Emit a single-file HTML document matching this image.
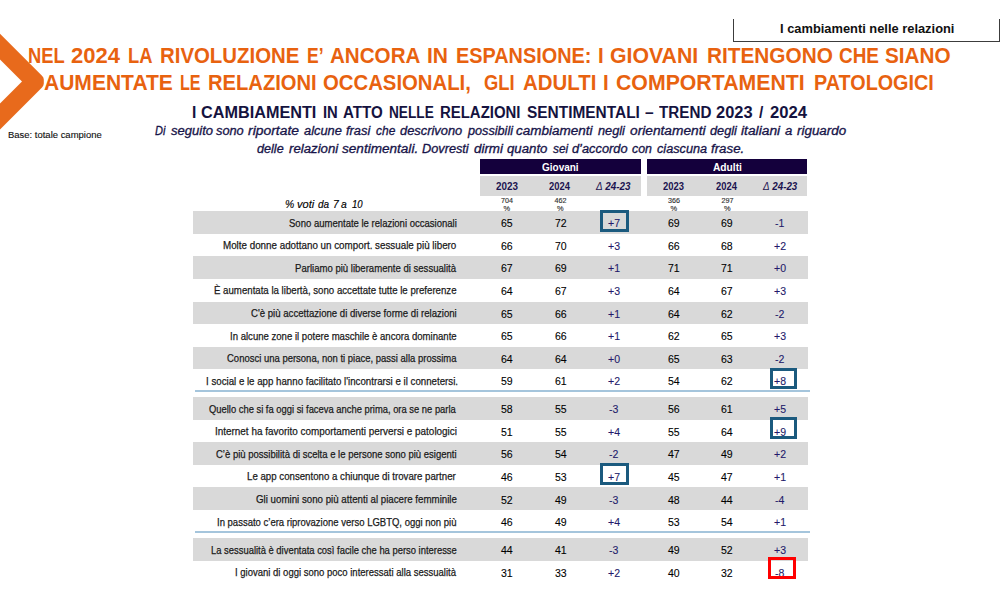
<!DOCTYPE html>
<html><head><meta charset="utf-8"><style>*{margin:0;padding:0}html,body{width:1000px;height:600px;overflow:hidden;background:#fff}body{position:relative;font-family:"Liberation Sans", Arial, sans-serif}.t{position:absolute;line-height:1;white-space:nowrap;transform-origin:0 0}.bl{display:inline-block;width:0;height:0}</style></head><body>
<svg style="position:absolute;left:0;top:0" width="60" height="140" viewBox="0 0 60 140"><path d="M0 33.8 L42 75.8 Q43.8 77.6 43.8 79.6 L43.8 83.6 Q43.8 85.6 42 87.4 L0 129.4 L0 103.6 L22 81.6 L0 59.6 Z" fill="#e86a1c"/></svg>
<div style="position:absolute;left:733px;top:19px;width:264.5px;height:21.5px;border-left:1.5px solid #3c3c3c;border-right:1.5px solid #3c3c3c;border-bottom:1.5px solid #3c3c3c"></div>
<div style="position:absolute;left:480px;top:159px;width:161px;height:15.2px;background:#14003c"></div>
<div style="position:absolute;left:480px;top:175.5px;width:161px;height:20px;background:#d9d9d9"></div>
<div style="position:absolute;left:647px;top:159px;width:160.2px;height:15.2px;background:#14003c"></div>
<div style="position:absolute;left:647px;top:175.5px;width:160.2px;height:20px;background:#d9d9d9"></div>
<div style="position:absolute;left:193px;top:211.2px;width:614.6px;height:22.6px;background:#d9d9d9"></div>
<div style="position:absolute;left:193px;top:256.36px;width:614.6px;height:22.6px;background:#d9d9d9"></div>
<div style="position:absolute;left:193px;top:301.52px;width:614.6px;height:22.6px;background:#d9d9d9"></div>
<div style="position:absolute;left:193px;top:346.67999999999995px;width:614.6px;height:22.6px;background:#d9d9d9"></div>
<div style="position:absolute;left:193px;top:397.0px;width:614.6px;height:22.6px;background:#d9d9d9"></div>
<div style="position:absolute;left:193px;top:442.2px;width:614.6px;height:22.6px;background:#d9d9d9"></div>
<div style="position:absolute;left:193px;top:487.4px;width:614.6px;height:22.6px;background:#d9d9d9"></div>
<div style="position:absolute;left:193px;top:538.0px;width:614.6px;height:22.6px;background:#d9d9d9"></div>
<div style="position:absolute;left:194.5px;top:390.3px;width:615.5px;height:1.5px;background:#a5c5dc"></div>
<div style="position:absolute;left:194.5px;top:531.3px;width:615.5px;height:1.5px;background:#a5c5dc"></div>
<div class="t" id="bx" style="left:780.00px;top:23.00px;font-size:12.3px;font-weight:700;font-style:normal;color:#111;transform:scaleX(1.0460)">I cambiamenti nelle relazioni</div>
<div class="t" id="base" style="left:7.60px;top:131.21px;font-size:8.9px;font-weight:400;font-style:normal;color:#111;transform:scaleX(1.0669);-webkit-text-stroke:0.12px #111">Base: totale campione</div>
<div class="t" id="gio" style="left:541.70px;top:162.01px;font-size:10.8px;font-weight:700;font-style:normal;color:#fff;transform:scaleX(0.9256)">Giovani</div>
<div class="t" id="adu" style="left:713.00px;top:161.60px;font-size:10.8px;font-weight:700;font-style:normal;color:#fff;transform:scaleX(0.9452)">Adulti</div>
<div class="t" id="g23" style="left:495.58px;top:181.61px;font-size:10.2px;font-weight:700;font-style:normal;color:#1c1450;transform:scaleX(0.9680)">2023</div>
<div class="t" id="g24" style="left:549.11px;top:181.61px;font-size:10.2px;font-weight:700;font-style:normal;color:#1c1450;transform:scaleX(0.9219)">2024</div>
<div class="t" id="a23" style="left:663.00px;top:181.61px;font-size:10.2px;font-weight:700;font-style:normal;color:#1c1450;transform:scaleX(0.9255)">2023</div>
<div class="t" id="a24" style="left:716.00px;top:181.61px;font-size:10.2px;font-weight:700;font-style:normal;color:#1c1450;transform:scaleX(0.9219)">2024</div>
<div class="t" id="gd" style="left:596.10px;top:181.61px;font-size:10.2px;font-weight:700;font-style:italic;color:#1c1450;transform:scaleX(0.9659)"><span style="font-weight:400">Δ</span> 24-23</div>
<div class="t" id="ad" style="left:763.09px;top:181.61px;font-size:10.2px;font-weight:700;font-style:italic;color:#1c1450;transform:scaleX(0.9600)"><span style="font-weight:400">Δ</span> 24-23</div>
<div class="t" id="n1" style="left:501.00px;top:196.90px;font-size:7.2px;font-weight:400;font-style:normal;color:#333;transform:scaleX(1.0000);-webkit-text-stroke:0.15px #333">704</div>
<div class="t" id="n1p" style="left:503.50px;top:204.60px;font-size:7.4px;font-weight:400;font-style:normal;color:#333;transform:scaleX(1.0000);-webkit-text-stroke:0.15px #333">%</div>
<div class="t" id="n2" style="left:554.50px;top:196.90px;font-size:7.2px;font-weight:400;font-style:normal;color:#333;transform:scaleX(1.0000);-webkit-text-stroke:0.15px #333">462</div>
<div class="t" id="n2p" style="left:557.00px;top:204.60px;font-size:7.4px;font-weight:400;font-style:normal;color:#333;transform:scaleX(1.0000);-webkit-text-stroke:0.15px #333">%</div>
<div class="t" id="n3" style="left:668.00px;top:196.90px;font-size:7.2px;font-weight:400;font-style:normal;color:#333;transform:scaleX(1.0000);-webkit-text-stroke:0.15px #333">366</div>
<div class="t" id="n3p" style="left:670.50px;top:204.60px;font-size:7.4px;font-weight:400;font-style:normal;color:#333;transform:scaleX(1.0000);-webkit-text-stroke:0.15px #333">%</div>
<div class="t" id="n4" style="left:721.40px;top:196.90px;font-size:7.2px;font-weight:400;font-style:normal;color:#333;transform:scaleX(1.0000);-webkit-text-stroke:0.15px #333">297</div>
<div class="t" id="n4p" style="left:723.90px;top:204.60px;font-size:7.4px;font-weight:400;font-style:normal;color:#333;transform:scaleX(1.0000);-webkit-text-stroke:0.15px #333">%</div>
<div class="t" id="l0" style="left:288.60px;top:217.71px;font-size:11.2px;font-weight:400;font-style:normal;color:#1a1a1a;transform:scaleX(0.8509);-webkit-text-stroke:0.25px #1a1a1a">Sono aumentate le relazioni occasionali</div>
<div class="t" id="v0_0" style="left:500.60px;top:217.31px;font-size:11.7px;font-weight:400;font-style:normal;color:#000000;transform:scaleX(0.9000);-webkit-text-stroke:0.1px #000000">65</div>
<div class="t" id="v0_1" style="left:554.50px;top:217.31px;font-size:11.7px;font-weight:400;font-style:normal;color:#000000;transform:scaleX(0.9000);-webkit-text-stroke:0.1px #000000">72</div>
<div class="t" id="v0_2" style="left:607.50px;top:217.31px;font-size:11.7px;font-weight:400;font-style:normal;color:#221a6a;transform:scaleX(0.9000);-webkit-text-stroke:0.1px #221a6a">+7</div>
<div class="t" id="v0_3" style="left:667.60px;top:217.31px;font-size:11.7px;font-weight:400;font-style:normal;color:#000000;transform:scaleX(0.9000);-webkit-text-stroke:0.1px #000000">69</div>
<div class="t" id="v0_4" style="left:721.40px;top:217.31px;font-size:11.7px;font-weight:400;font-style:normal;color:#000000;transform:scaleX(0.9000);-webkit-text-stroke:0.1px #000000">69</div>
<div class="t" id="v0_5" style="left:775.40px;top:217.31px;font-size:11.7px;font-weight:400;font-style:normal;color:#221a6a;transform:scaleX(0.9000);-webkit-text-stroke:0.1px #221a6a">-1</div>
<div class="t" id="l1" style="left:223.19px;top:240.30px;font-size:11.2px;font-weight:400;font-style:normal;color:#1a1a1a;transform:scaleX(0.8765);-webkit-text-stroke:0.25px #1a1a1a">Molte donne adottano un comport. sessuale più libero</div>
<div class="t" id="v1_0" style="left:500.60px;top:239.89px;font-size:11.7px;font-weight:400;font-style:normal;color:#000000;transform:scaleX(0.9000);-webkit-text-stroke:0.1px #000000">66</div>
<div class="t" id="v1_1" style="left:554.50px;top:239.89px;font-size:11.7px;font-weight:400;font-style:normal;color:#000000;transform:scaleX(0.9000);-webkit-text-stroke:0.1px #000000">70</div>
<div class="t" id="v1_2" style="left:607.50px;top:239.89px;font-size:11.7px;font-weight:400;font-style:normal;color:#221a6a;transform:scaleX(0.9000);-webkit-text-stroke:0.1px #221a6a">+3</div>
<div class="t" id="v1_3" style="left:667.60px;top:239.89px;font-size:11.7px;font-weight:400;font-style:normal;color:#000000;transform:scaleX(0.9000);-webkit-text-stroke:0.1px #000000">66</div>
<div class="t" id="v1_4" style="left:721.40px;top:239.89px;font-size:11.7px;font-weight:400;font-style:normal;color:#000000;transform:scaleX(0.9000);-webkit-text-stroke:0.1px #000000">68</div>
<div class="t" id="v1_5" style="left:774.40px;top:239.89px;font-size:11.7px;font-weight:400;font-style:normal;color:#221a6a;transform:scaleX(0.9000);-webkit-text-stroke:0.1px #221a6a">+2</div>
<div class="t" id="l2" style="left:295.00px;top:262.88px;font-size:11.2px;font-weight:400;font-style:normal;color:#1a1a1a;transform:scaleX(0.8547);-webkit-text-stroke:0.25px #1a1a1a">Parliamo più liberamente di sessualità</div>
<div class="t" id="v2_0" style="left:500.60px;top:262.46px;font-size:11.7px;font-weight:400;font-style:normal;color:#000000;transform:scaleX(0.9000);-webkit-text-stroke:0.1px #000000">67</div>
<div class="t" id="v2_1" style="left:554.50px;top:262.46px;font-size:11.7px;font-weight:400;font-style:normal;color:#000000;transform:scaleX(0.9000);-webkit-text-stroke:0.1px #000000">69</div>
<div class="t" id="v2_2" style="left:607.50px;top:262.46px;font-size:11.7px;font-weight:400;font-style:normal;color:#221a6a;transform:scaleX(0.9000);-webkit-text-stroke:0.1px #221a6a">+1</div>
<div class="t" id="v2_3" style="left:667.60px;top:262.46px;font-size:11.7px;font-weight:400;font-style:normal;color:#000000;transform:scaleX(0.9000);-webkit-text-stroke:0.1px #000000">71</div>
<div class="t" id="v2_4" style="left:721.40px;top:262.46px;font-size:11.7px;font-weight:400;font-style:normal;color:#000000;transform:scaleX(0.9000);-webkit-text-stroke:0.1px #000000">71</div>
<div class="t" id="v2_5" style="left:774.40px;top:262.46px;font-size:11.7px;font-weight:400;font-style:normal;color:#221a6a;transform:scaleX(0.9000);-webkit-text-stroke:0.1px #221a6a">+0</div>
<div class="t" id="l3" style="left:214.40px;top:285.45px;font-size:11.2px;font-weight:400;font-style:normal;color:#1a1a1a;transform:scaleX(0.8628);-webkit-text-stroke:0.25px #1a1a1a">È aumentata la libertà, sono accettate tutte le preferenze</div>
<div class="t" id="v3_0" style="left:500.60px;top:285.04px;font-size:11.7px;font-weight:400;font-style:normal;color:#000000;transform:scaleX(0.9000);-webkit-text-stroke:0.1px #000000">64</div>
<div class="t" id="v3_1" style="left:554.50px;top:285.04px;font-size:11.7px;font-weight:400;font-style:normal;color:#000000;transform:scaleX(0.9000);-webkit-text-stroke:0.1px #000000">67</div>
<div class="t" id="v3_2" style="left:607.50px;top:285.04px;font-size:11.7px;font-weight:400;font-style:normal;color:#221a6a;transform:scaleX(0.9000);-webkit-text-stroke:0.1px #221a6a">+3</div>
<div class="t" id="v3_3" style="left:667.60px;top:285.04px;font-size:11.7px;font-weight:400;font-style:normal;color:#000000;transform:scaleX(0.9000);-webkit-text-stroke:0.1px #000000">64</div>
<div class="t" id="v3_4" style="left:721.40px;top:285.04px;font-size:11.7px;font-weight:400;font-style:normal;color:#000000;transform:scaleX(0.9000);-webkit-text-stroke:0.1px #000000">67</div>
<div class="t" id="v3_5" style="left:774.40px;top:285.04px;font-size:11.7px;font-weight:400;font-style:normal;color:#221a6a;transform:scaleX(0.9000);-webkit-text-stroke:0.1px #221a6a">+3</div>
<div class="t" id="l4" style="left:250.80px;top:308.03px;font-size:11.2px;font-weight:400;font-style:normal;color:#1a1a1a;transform:scaleX(0.8584);-webkit-text-stroke:0.25px #1a1a1a">C'è più accettazione di diverse forme di relazioni</div>
<div class="t" id="v4_0" style="left:500.60px;top:307.63px;font-size:11.7px;font-weight:400;font-style:normal;color:#000000;transform:scaleX(0.9000);-webkit-text-stroke:0.1px #000000">65</div>
<div class="t" id="v4_1" style="left:554.50px;top:307.63px;font-size:11.7px;font-weight:400;font-style:normal;color:#000000;transform:scaleX(0.9000);-webkit-text-stroke:0.1px #000000">66</div>
<div class="t" id="v4_2" style="left:607.50px;top:307.63px;font-size:11.7px;font-weight:400;font-style:normal;color:#221a6a;transform:scaleX(0.9000);-webkit-text-stroke:0.1px #221a6a">+1</div>
<div class="t" id="v4_3" style="left:667.60px;top:307.63px;font-size:11.7px;font-weight:400;font-style:normal;color:#000000;transform:scaleX(0.9000);-webkit-text-stroke:0.1px #000000">64</div>
<div class="t" id="v4_4" style="left:721.40px;top:307.63px;font-size:11.7px;font-weight:400;font-style:normal;color:#000000;transform:scaleX(0.9000);-webkit-text-stroke:0.1px #000000">62</div>
<div class="t" id="v4_5" style="left:775.40px;top:307.63px;font-size:11.7px;font-weight:400;font-style:normal;color:#221a6a;transform:scaleX(0.9000);-webkit-text-stroke:0.1px #221a6a">-2</div>
<div class="t" id="l5" style="left:229.90px;top:330.60px;font-size:11.2px;font-weight:400;font-style:normal;color:#1a1a1a;transform:scaleX(0.8555);-webkit-text-stroke:0.25px #1a1a1a">In alcune zone il potere maschile è ancora dominante</div>
<div class="t" id="v5_0" style="left:500.60px;top:330.20px;font-size:11.7px;font-weight:400;font-style:normal;color:#000000;transform:scaleX(0.9000);-webkit-text-stroke:0.1px #000000">65</div>
<div class="t" id="v5_1" style="left:554.50px;top:330.20px;font-size:11.7px;font-weight:400;font-style:normal;color:#000000;transform:scaleX(0.9000);-webkit-text-stroke:0.1px #000000">66</div>
<div class="t" id="v5_2" style="left:607.50px;top:330.20px;font-size:11.7px;font-weight:400;font-style:normal;color:#221a6a;transform:scaleX(0.9000);-webkit-text-stroke:0.1px #221a6a">+1</div>
<div class="t" id="v5_3" style="left:667.60px;top:330.20px;font-size:11.7px;font-weight:400;font-style:normal;color:#000000;transform:scaleX(0.9000);-webkit-text-stroke:0.1px #000000">62</div>
<div class="t" id="v5_4" style="left:721.40px;top:330.20px;font-size:11.7px;font-weight:400;font-style:normal;color:#000000;transform:scaleX(0.9000);-webkit-text-stroke:0.1px #000000">65</div>
<div class="t" id="v5_5" style="left:774.40px;top:330.20px;font-size:11.7px;font-weight:400;font-style:normal;color:#221a6a;transform:scaleX(0.9000);-webkit-text-stroke:0.1px #221a6a">+3</div>
<div class="t" id="l6" style="left:227.40px;top:353.19px;font-size:11.2px;font-weight:400;font-style:normal;color:#1a1a1a;transform:scaleX(0.8482);-webkit-text-stroke:0.25px #1a1a1a">Conosci una persona, non ti piace, passi alla prossima</div>
<div class="t" id="v6_0" style="left:500.60px;top:352.80px;font-size:11.7px;font-weight:400;font-style:normal;color:#000000;transform:scaleX(0.9000);-webkit-text-stroke:0.1px #000000">64</div>
<div class="t" id="v6_1" style="left:554.50px;top:352.80px;font-size:11.7px;font-weight:400;font-style:normal;color:#000000;transform:scaleX(0.9000);-webkit-text-stroke:0.1px #000000">64</div>
<div class="t" id="v6_2" style="left:607.50px;top:352.80px;font-size:11.7px;font-weight:400;font-style:normal;color:#221a6a;transform:scaleX(0.9000);-webkit-text-stroke:0.1px #221a6a">+0</div>
<div class="t" id="v6_3" style="left:667.60px;top:352.80px;font-size:11.7px;font-weight:400;font-style:normal;color:#000000;transform:scaleX(0.9000);-webkit-text-stroke:0.1px #000000">65</div>
<div class="t" id="v6_4" style="left:721.40px;top:352.80px;font-size:11.7px;font-weight:400;font-style:normal;color:#000000;transform:scaleX(0.9000);-webkit-text-stroke:0.1px #000000">63</div>
<div class="t" id="v6_5" style="left:775.40px;top:352.80px;font-size:11.7px;font-weight:400;font-style:normal;color:#221a6a;transform:scaleX(0.9000);-webkit-text-stroke:0.1px #221a6a">-2</div>
<div class="t" id="l7" style="left:205.50px;top:375.77px;font-size:11.2px;font-weight:400;font-style:normal;color:#1a1a1a;transform:scaleX(0.8669);-webkit-text-stroke:0.25px #1a1a1a">I social e le app hanno facilitato l'incontrarsi e il connetersi.</div>
<div class="t" id="v7_0" style="left:500.60px;top:375.37px;font-size:11.7px;font-weight:400;font-style:normal;color:#000000;transform:scaleX(0.9000);-webkit-text-stroke:0.1px #000000">59</div>
<div class="t" id="v7_1" style="left:554.50px;top:375.37px;font-size:11.7px;font-weight:400;font-style:normal;color:#000000;transform:scaleX(0.9000);-webkit-text-stroke:0.1px #000000">61</div>
<div class="t" id="v7_2" style="left:607.50px;top:375.37px;font-size:11.7px;font-weight:400;font-style:normal;color:#221a6a;transform:scaleX(0.9000);-webkit-text-stroke:0.1px #221a6a">+2</div>
<div class="t" id="v7_3" style="left:667.60px;top:375.37px;font-size:11.7px;font-weight:400;font-style:normal;color:#000000;transform:scaleX(0.9000);-webkit-text-stroke:0.1px #000000">54</div>
<div class="t" id="v7_4" style="left:721.40px;top:375.37px;font-size:11.7px;font-weight:400;font-style:normal;color:#000000;transform:scaleX(0.9000);-webkit-text-stroke:0.1px #000000">62</div>
<div class="t" id="v7_5" style="left:774.40px;top:375.37px;font-size:11.7px;font-weight:400;font-style:normal;color:#221a6a;transform:scaleX(0.9000);-webkit-text-stroke:0.1px #221a6a">+8</div>
<div class="t" id="l8" style="left:209.40px;top:403.51px;font-size:11.2px;font-weight:400;font-style:normal;color:#1a1a1a;transform:scaleX(0.8389);-webkit-text-stroke:0.25px #1a1a1a">Quello che si fa oggi si faceva anche prima, ora se ne parla</div>
<div class="t" id="v8_0" style="left:500.60px;top:403.10px;font-size:11.7px;font-weight:400;font-style:normal;color:#000000;transform:scaleX(0.9000);-webkit-text-stroke:0.1px #000000">58</div>
<div class="t" id="v8_1" style="left:554.50px;top:403.10px;font-size:11.7px;font-weight:400;font-style:normal;color:#000000;transform:scaleX(0.9000);-webkit-text-stroke:0.1px #000000">55</div>
<div class="t" id="v8_2" style="left:608.50px;top:403.10px;font-size:11.7px;font-weight:400;font-style:normal;color:#221a6a;transform:scaleX(0.9000);-webkit-text-stroke:0.1px #221a6a">-3</div>
<div class="t" id="v8_3" style="left:667.60px;top:403.10px;font-size:11.7px;font-weight:400;font-style:normal;color:#000000;transform:scaleX(0.9000);-webkit-text-stroke:0.1px #000000">56</div>
<div class="t" id="v8_4" style="left:721.40px;top:403.10px;font-size:11.7px;font-weight:400;font-style:normal;color:#000000;transform:scaleX(0.9000);-webkit-text-stroke:0.1px #000000">61</div>
<div class="t" id="v8_5" style="left:774.40px;top:403.10px;font-size:11.7px;font-weight:400;font-style:normal;color:#221a6a;transform:scaleX(0.9000);-webkit-text-stroke:0.1px #221a6a">+5</div>
<div class="t" id="l9" style="left:214.59px;top:426.10px;font-size:11.2px;font-weight:400;font-style:normal;color:#1a1a1a;transform:scaleX(0.8864);-webkit-text-stroke:0.25px #1a1a1a">Internet ha favorito comportamenti perversi e patologici</div>
<div class="t" id="v9_0" style="left:500.60px;top:425.71px;font-size:11.7px;font-weight:400;font-style:normal;color:#000000;transform:scaleX(0.9000);-webkit-text-stroke:0.1px #000000">51</div>
<div class="t" id="v9_1" style="left:554.50px;top:425.71px;font-size:11.7px;font-weight:400;font-style:normal;color:#000000;transform:scaleX(0.9000);-webkit-text-stroke:0.1px #000000">55</div>
<div class="t" id="v9_2" style="left:607.50px;top:425.71px;font-size:11.7px;font-weight:400;font-style:normal;color:#221a6a;transform:scaleX(0.9000);-webkit-text-stroke:0.1px #221a6a">+4</div>
<div class="t" id="v9_3" style="left:667.60px;top:425.71px;font-size:11.7px;font-weight:400;font-style:normal;color:#000000;transform:scaleX(0.9000);-webkit-text-stroke:0.1px #000000">55</div>
<div class="t" id="v9_4" style="left:721.40px;top:425.71px;font-size:11.7px;font-weight:400;font-style:normal;color:#000000;transform:scaleX(0.9000);-webkit-text-stroke:0.1px #000000">64</div>
<div class="t" id="v9_5" style="left:774.40px;top:425.71px;font-size:11.7px;font-weight:400;font-style:normal;color:#221a6a;transform:scaleX(0.9000);-webkit-text-stroke:0.1px #221a6a">+9</div>
<div class="t" id="l10" style="left:216.10px;top:448.71px;font-size:11.2px;font-weight:400;font-style:normal;color:#1a1a1a;transform:scaleX(0.8501);-webkit-text-stroke:0.25px #1a1a1a">C’è più possibilità di scelta e le persone sono più esigenti</div>
<div class="t" id="v10_0" style="left:500.60px;top:448.31px;font-size:11.7px;font-weight:400;font-style:normal;color:#000000;transform:scaleX(0.9000);-webkit-text-stroke:0.1px #000000">56</div>
<div class="t" id="v10_1" style="left:554.50px;top:448.31px;font-size:11.7px;font-weight:400;font-style:normal;color:#000000;transform:scaleX(0.9000);-webkit-text-stroke:0.1px #000000">54</div>
<div class="t" id="v10_2" style="left:608.50px;top:448.31px;font-size:11.7px;font-weight:400;font-style:normal;color:#221a6a;transform:scaleX(0.9000);-webkit-text-stroke:0.1px #221a6a">-2</div>
<div class="t" id="v10_3" style="left:667.60px;top:448.31px;font-size:11.7px;font-weight:400;font-style:normal;color:#000000;transform:scaleX(0.9000);-webkit-text-stroke:0.1px #000000">47</div>
<div class="t" id="v10_4" style="left:721.40px;top:448.31px;font-size:11.7px;font-weight:400;font-style:normal;color:#000000;transform:scaleX(0.9000);-webkit-text-stroke:0.1px #000000">49</div>
<div class="t" id="v10_5" style="left:774.40px;top:448.31px;font-size:11.7px;font-weight:400;font-style:normal;color:#221a6a;transform:scaleX(0.9000);-webkit-text-stroke:0.1px #221a6a">+2</div>
<div class="t" id="l11" style="left:247.10px;top:471.31px;font-size:11.2px;font-weight:400;font-style:normal;color:#1a1a1a;transform:scaleX(0.8650);-webkit-text-stroke:0.25px #1a1a1a">Le app consentono a chiunque di trovare partner</div>
<div class="t" id="v11_0" style="left:500.60px;top:470.90px;font-size:11.7px;font-weight:400;font-style:normal;color:#000000;transform:scaleX(0.9000);-webkit-text-stroke:0.1px #000000">46</div>
<div class="t" id="v11_1" style="left:554.50px;top:470.90px;font-size:11.7px;font-weight:400;font-style:normal;color:#000000;transform:scaleX(0.9000);-webkit-text-stroke:0.1px #000000">53</div>
<div class="t" id="v11_2" style="left:607.50px;top:470.90px;font-size:11.7px;font-weight:400;font-style:normal;color:#221a6a;transform:scaleX(0.9000);-webkit-text-stroke:0.1px #221a6a">+7</div>
<div class="t" id="v11_3" style="left:667.60px;top:470.90px;font-size:11.7px;font-weight:400;font-style:normal;color:#000000;transform:scaleX(0.9000);-webkit-text-stroke:0.1px #000000">45</div>
<div class="t" id="v11_4" style="left:721.40px;top:470.90px;font-size:11.7px;font-weight:400;font-style:normal;color:#000000;transform:scaleX(0.9000);-webkit-text-stroke:0.1px #000000">47</div>
<div class="t" id="v11_5" style="left:774.40px;top:470.90px;font-size:11.7px;font-weight:400;font-style:normal;color:#221a6a;transform:scaleX(0.9000);-webkit-text-stroke:0.1px #221a6a">+1</div>
<div class="t" id="l12" style="left:256.00px;top:493.90px;font-size:11.2px;font-weight:400;font-style:normal;color:#1a1a1a;transform:scaleX(0.8686);-webkit-text-stroke:0.25px #1a1a1a">Gli uomini sono più attenti al piacere femminile</div>
<div class="t" id="v12_0" style="left:500.60px;top:493.51px;font-size:11.7px;font-weight:400;font-style:normal;color:#000000;transform:scaleX(0.9000);-webkit-text-stroke:0.1px #000000">52</div>
<div class="t" id="v12_1" style="left:554.50px;top:493.51px;font-size:11.7px;font-weight:400;font-style:normal;color:#000000;transform:scaleX(0.9000);-webkit-text-stroke:0.1px #000000">49</div>
<div class="t" id="v12_2" style="left:608.50px;top:493.51px;font-size:11.7px;font-weight:400;font-style:normal;color:#221a6a;transform:scaleX(0.9000);-webkit-text-stroke:0.1px #221a6a">-3</div>
<div class="t" id="v12_3" style="left:667.60px;top:493.51px;font-size:11.7px;font-weight:400;font-style:normal;color:#000000;transform:scaleX(0.9000);-webkit-text-stroke:0.1px #000000">48</div>
<div class="t" id="v12_4" style="left:721.40px;top:493.51px;font-size:11.7px;font-weight:400;font-style:normal;color:#000000;transform:scaleX(0.9000);-webkit-text-stroke:0.1px #000000">44</div>
<div class="t" id="v12_5" style="left:775.40px;top:493.51px;font-size:11.7px;font-weight:400;font-style:normal;color:#221a6a;transform:scaleX(0.9000);-webkit-text-stroke:0.1px #221a6a">-4</div>
<div class="t" id="l13" style="left:217.10px;top:516.51px;font-size:11.2px;font-weight:400;font-style:normal;color:#1a1a1a;transform:scaleX(0.8501);-webkit-text-stroke:0.25px #1a1a1a">In passato c’era riprovazione verso LGBTQ, oggi non più</div>
<div class="t" id="v13_0" style="left:500.60px;top:516.10px;font-size:11.7px;font-weight:400;font-style:normal;color:#000000;transform:scaleX(0.9000);-webkit-text-stroke:0.1px #000000">46</div>
<div class="t" id="v13_1" style="left:554.50px;top:516.10px;font-size:11.7px;font-weight:400;font-style:normal;color:#000000;transform:scaleX(0.9000);-webkit-text-stroke:0.1px #000000">49</div>
<div class="t" id="v13_2" style="left:607.50px;top:516.10px;font-size:11.7px;font-weight:400;font-style:normal;color:#221a6a;transform:scaleX(0.9000);-webkit-text-stroke:0.1px #221a6a">+4</div>
<div class="t" id="v13_3" style="left:667.60px;top:516.10px;font-size:11.7px;font-weight:400;font-style:normal;color:#000000;transform:scaleX(0.9000);-webkit-text-stroke:0.1px #000000">53</div>
<div class="t" id="v13_4" style="left:721.40px;top:516.10px;font-size:11.7px;font-weight:400;font-style:normal;color:#000000;transform:scaleX(0.9000);-webkit-text-stroke:0.1px #000000">54</div>
<div class="t" id="v13_5" style="left:774.40px;top:516.10px;font-size:11.7px;font-weight:400;font-style:normal;color:#221a6a;transform:scaleX(0.9000);-webkit-text-stroke:0.1px #221a6a">+1</div>
<div class="t" id="l14" style="left:210.70px;top:544.51px;font-size:11.2px;font-weight:400;font-style:normal;color:#1a1a1a;transform:scaleX(0.8409);-webkit-text-stroke:0.25px #1a1a1a">La sessualità è diventata così facile che ha perso interesse</div>
<div class="t" id="v14_0" style="left:500.60px;top:544.10px;font-size:11.7px;font-weight:400;font-style:normal;color:#000000;transform:scaleX(0.9000);-webkit-text-stroke:0.1px #000000">44</div>
<div class="t" id="v14_1" style="left:554.50px;top:544.10px;font-size:11.7px;font-weight:400;font-style:normal;color:#000000;transform:scaleX(0.9000);-webkit-text-stroke:0.1px #000000">41</div>
<div class="t" id="v14_2" style="left:608.50px;top:544.10px;font-size:11.7px;font-weight:400;font-style:normal;color:#221a6a;transform:scaleX(0.9000);-webkit-text-stroke:0.1px #221a6a">-3</div>
<div class="t" id="v14_3" style="left:667.60px;top:544.10px;font-size:11.7px;font-weight:400;font-style:normal;color:#000000;transform:scaleX(0.9000);-webkit-text-stroke:0.1px #000000">49</div>
<div class="t" id="v14_4" style="left:721.40px;top:544.10px;font-size:11.7px;font-weight:400;font-style:normal;color:#000000;transform:scaleX(0.9000);-webkit-text-stroke:0.1px #000000">52</div>
<div class="t" id="v14_5" style="left:774.40px;top:544.10px;font-size:11.7px;font-weight:400;font-style:normal;color:#221a6a;transform:scaleX(0.9000);-webkit-text-stroke:0.1px #221a6a">+3</div>
<div class="t" id="l15" style="left:235.20px;top:567.10px;font-size:11.2px;font-weight:400;font-style:normal;color:#1a1a1a;transform:scaleX(0.8500);-webkit-text-stroke:0.25px #1a1a1a">I giovani di oggi sono poco interessati alla sessualità</div>
<div class="t" id="v15_0" style="left:500.60px;top:566.71px;font-size:11.7px;font-weight:400;font-style:normal;color:#000000;transform:scaleX(0.9000);-webkit-text-stroke:0.1px #000000">31</div>
<div class="t" id="v15_1" style="left:554.50px;top:566.71px;font-size:11.7px;font-weight:400;font-style:normal;color:#000000;transform:scaleX(0.9000);-webkit-text-stroke:0.1px #000000">33</div>
<div class="t" id="v15_2" style="left:607.50px;top:566.71px;font-size:11.7px;font-weight:400;font-style:normal;color:#221a6a;transform:scaleX(0.9000);-webkit-text-stroke:0.1px #221a6a">+2</div>
<div class="t" id="v15_3" style="left:667.60px;top:566.71px;font-size:11.7px;font-weight:400;font-style:normal;color:#000000;transform:scaleX(0.9000);-webkit-text-stroke:0.1px #000000">40</div>
<div class="t" id="v15_4" style="left:721.40px;top:566.71px;font-size:11.7px;font-weight:400;font-style:normal;color:#000000;transform:scaleX(0.9000);-webkit-text-stroke:0.1px #000000">32</div>
<div class="t" id="v15_5" style="left:775.40px;top:566.71px;font-size:11.7px;font-weight:400;font-style:normal;color:#221a6a;transform:scaleX(0.9000);-webkit-text-stroke:0.1px #221a6a">-8</div>
<div class="t" id="h1_0" style="left:27.85px;top:44.61px;font-size:22.5px;font-weight:700;font-style:normal;color:#e8620f;transform:scaleX(0.8141)">NEL</div>
<div class="t" id="h1_1" style="left:70.90px;top:44.61px;font-size:22.5px;font-weight:700;font-style:normal;color:#e8620f;transform:scaleX(0.9789)">2024</div>
<div class="t" id="h1_2" style="left:128.16px;top:44.61px;font-size:22.5px;font-weight:700;font-style:normal;color:#e8620f;transform:scaleX(0.8168)">LA</div>
<div class="t" id="h1_3" style="left:160.08px;top:44.61px;font-size:22.5px;font-weight:700;font-style:normal;color:#e8620f;transform:scaleX(0.9061)">RIVOLUZIONE</div>
<div class="t" id="h1_4" style="left:307.28px;top:44.61px;font-size:22.5px;font-weight:700;font-style:normal;color:#e8620f;transform:scaleX(0.7768)">E’</div>
<div class="t" id="h1_5" style="left:329.52px;top:44.61px;font-size:22.5px;font-weight:700;font-style:normal;color:#e8620f;transform:scaleX(0.9152)">ANCORA</div>
<div class="t" id="h1_6" style="left:427.44px;top:44.61px;font-size:22.5px;font-weight:700;font-style:normal;color:#e8620f;transform:scaleX(0.9327)">IN</div>
<div class="t" id="h1_7" style="left:455.71px;top:44.61px;font-size:22.5px;font-weight:700;font-style:normal;color:#e8620f;transform:scaleX(0.8826)">ESPANSIONE:</div>
<div class="t" id="h1_8" style="left:597.56px;top:44.61px;font-size:22.5px;font-weight:700;font-style:normal;color:#e8620f;transform:scaleX(0.9038)">I</div>
<div class="t" id="h1_9" style="left:610.27px;top:44.61px;font-size:22.5px;font-weight:700;font-style:normal;color:#e8620f;transform:scaleX(0.9443)">GIOVANI</div>
<div class="t" id="h1_10" style="left:706.78px;top:44.61px;font-size:22.5px;font-weight:700;font-style:normal;color:#e8620f;transform:scaleX(0.9235)">RITENGONO</div>
<div class="t" id="h1_11" style="left:838.73px;top:44.61px;font-size:22.5px;font-weight:700;font-style:normal;color:#e8620f;transform:scaleX(0.8408)">CHE</div>
<div class="t" id="h1_12" style="left:885.37px;top:44.61px;font-size:22.5px;font-weight:700;font-style:normal;color:#e8620f;transform:scaleX(0.9204)">SIANO</div>
<div class="t" id="h2_0" style="left:43.50px;top:71.61px;font-size:22.5px;font-weight:700;font-style:normal;color:#e8620f;transform:scaleX(0.9346)">AUMENTATE</div>
<div class="t" id="h2_1" style="left:179.78px;top:71.61px;font-size:22.5px;font-weight:700;font-style:normal;color:#e8620f;transform:scaleX(0.7162)">LE</div>
<div class="t" id="h2_2" style="left:207.83px;top:71.61px;font-size:22.5px;font-weight:700;font-style:normal;color:#e8620f;transform:scaleX(0.8962)">RELAZIONI</div>
<div class="t" id="h2_3" style="left:323.28px;top:71.61px;font-size:22.5px;font-weight:700;font-style:normal;color:#e8620f;transform:scaleX(0.9032)">OCCASIONALI,</div>
<div class="t" id="h2_4" style="left:484.15px;top:71.61px;font-size:22.5px;font-weight:700;font-style:normal;color:#e8620f;transform:scaleX(0.8168)">GLI</div>
<div class="t" id="h2_5" style="left:522.61px;top:71.61px;font-size:22.5px;font-weight:700;font-style:normal;color:#e8620f;transform:scaleX(0.9072)">ADULTI</div>
<div class="t" id="h2_6" style="left:603.22px;top:71.61px;font-size:22.5px;font-weight:700;font-style:normal;color:#e8620f;transform:scaleX(0.9057)">I</div>
<div class="t" id="h2_7" style="left:616.39px;top:71.61px;font-size:22.5px;font-weight:700;font-style:normal;color:#e8620f;transform:scaleX(0.9454)">COMPORTAMENTI</div>
<div class="t" id="h2_8" style="left:813.51px;top:71.61px;font-size:22.5px;font-weight:700;font-style:normal;color:#e8620f;transform:scaleX(0.8788)">PATOLOGICI</div>
<div class="t" id="sub_0" style="left:191.69px;top:104.01px;font-size:17.4px;font-weight:700;font-style:normal;color:#15133f;transform:scaleX(0.8895)">I</div>
<div class="t" id="sub_1" style="left:201.23px;top:104.01px;font-size:17.4px;font-weight:700;font-style:normal;color:#15133f;transform:scaleX(0.9329)">CAMBIAMENTI</div>
<div class="t" id="sub_2" style="left:322.59px;top:104.01px;font-size:17.4px;font-weight:700;font-style:normal;color:#15133f;transform:scaleX(0.8502)">IN</div>
<div class="t" id="sub_3" style="left:342.92px;top:104.01px;font-size:17.4px;font-weight:700;font-style:normal;color:#15133f;transform:scaleX(0.8692)">ATTO</div>
<div class="t" id="sub_4" style="left:388.90px;top:104.01px;font-size:17.4px;font-weight:700;font-style:normal;color:#15133f;transform:scaleX(0.7848)">NELLE</div>
<div class="t" id="sub_5" style="left:439.75px;top:104.01px;font-size:17.4px;font-weight:700;font-style:normal;color:#15133f;transform:scaleX(0.8589)">RELAZIONI</div>
<div class="t" id="sub_6" style="left:526.61px;top:104.01px;font-size:17.4px;font-weight:700;font-style:normal;color:#15133f;transform:scaleX(0.8873)">SENTIMENTALI</div>
<div class="t" id="sub_7" style="left:645.29px;top:104.01px;font-size:17.4px;font-weight:700;font-style:normal;color:#15133f;transform:scaleX(0.8895)">–</div>
<div class="t" id="sub_8" style="left:658.53px;top:104.01px;font-size:17.4px;font-weight:700;font-style:normal;color:#15133f;transform:scaleX(0.8740)">TREND</div>
<div class="t" id="sub_9" style="left:716.29px;top:104.01px;font-size:17.4px;font-weight:700;font-style:normal;color:#15133f;transform:scaleX(0.9458)">2023</div>
<div class="t" id="sub_10" style="left:759.41px;top:104.01px;font-size:17.4px;font-weight:700;font-style:normal;color:#15133f;transform:scaleX(0.8895)">/</div>
<div class="t" id="sub_11" style="left:770.19px;top:104.01px;font-size:17.4px;font-weight:700;font-style:normal;color:#15133f;transform:scaleX(0.9575)">2024</div>
<div class="t" id="it1_0" style="left:155.30px;top:125.41px;font-size:12px;font-weight:400;font-style:italic;color:#171449;transform:scaleX(0.9147);-webkit-text-stroke:0.3px #171449">Di</div>
<div class="t" id="it1_1" style="left:170.64px;top:125.41px;font-size:12px;font-weight:400;font-style:italic;color:#171449;transform:scaleX(1.0871);-webkit-text-stroke:0.3px #171449">seguito</div>
<div class="t" id="it1_2" style="left:216.41px;top:125.41px;font-size:12px;font-weight:400;font-style:italic;color:#171449;transform:scaleX(1.0650);-webkit-text-stroke:0.3px #171449">sono</div>
<div class="t" id="it1_3" style="left:248.36px;top:125.41px;font-size:12px;font-weight:400;font-style:italic;color:#171449;transform:scaleX(1.1577);-webkit-text-stroke:0.3px #171449">riportate</div>
<div class="t" id="it1_4" style="left:304.47px;top:125.41px;font-size:12px;font-weight:400;font-style:italic;color:#171449;transform:scaleX(1.0701);-webkit-text-stroke:0.3px #171449">alcune</div>
<div class="t" id="it1_5" style="left:346.20px;top:125.41px;font-size:12px;font-weight:400;font-style:italic;color:#171449;transform:scaleX(1.0707);-webkit-text-stroke:0.3px #171449">frasi</div>
<div class="t" id="it1_6" style="left:375.71px;top:125.41px;font-size:12px;font-weight:400;font-style:italic;color:#171449;transform:scaleX(0.9965);-webkit-text-stroke:0.3px #171449">che</div>
<div class="t" id="it1_7" style="left:399.86px;top:125.41px;font-size:12px;font-weight:400;font-style:italic;color:#171449;transform:scaleX(1.0717);-webkit-text-stroke:0.3px #171449">descrivono</div>
<div class="t" id="it1_8" style="left:467.66px;top:125.41px;font-size:12px;font-weight:400;font-style:italic;color:#171449;transform:scaleX(1.0553);-webkit-text-stroke:0.3px #171449">possibili</div>
<div class="t" id="it1_9" style="left:516.23px;top:125.41px;font-size:12px;font-weight:400;font-style:italic;color:#171449;transform:scaleX(1.1262);-webkit-text-stroke:0.3px #171449">cambiamenti</div>
<div class="t" id="it1_10" style="left:598.05px;top:125.41px;font-size:12px;font-weight:400;font-style:italic;color:#171449;transform:scaleX(1.0629);-webkit-text-stroke:0.3px #171449">negli</div>
<div class="t" id="it1_11" style="left:629.61px;top:125.41px;font-size:12px;font-weight:400;font-style:italic;color:#171449;transform:scaleX(1.1433);-webkit-text-stroke:0.3px #171449">orientamenti</div>
<div class="t" id="it1_12" style="left:709.63px;top:125.41px;font-size:12px;font-weight:400;font-style:italic;color:#171449;transform:scaleX(1.0629);-webkit-text-stroke:0.3px #171449">degli</div>
<div class="t" id="it1_13" style="left:741.33px;top:125.41px;font-size:12px;font-weight:400;font-style:italic;color:#171449;transform:scaleX(1.1513);-webkit-text-stroke:0.3px #171449">italiani</div>
<div class="t" id="it1_14" style="left:785.00px;top:125.41px;font-size:12px;font-weight:400;font-style:italic;color:#171449;transform:scaleX(1.0961);-webkit-text-stroke:0.3px #171449">a</div>
<div class="t" id="it1_15" style="left:796.92px;top:125.41px;font-size:12px;font-weight:400;font-style:italic;color:#171449;transform:scaleX(1.1161);-webkit-text-stroke:0.3px #171449">riguardo</div>
<div class="t" id="it2_0" style="left:257.43px;top:142.81px;font-size:12px;font-weight:400;font-style:italic;color:#171449;transform:scaleX(1.0508);-webkit-text-stroke:0.3px #171449">delle</div>
<div class="t" id="it2_1" style="left:288.67px;top:142.81px;font-size:12px;font-weight:400;font-style:italic;color:#171449;transform:scaleX(1.1014);-webkit-text-stroke:0.3px #171449">relazioni</div>
<div class="t" id="it2_2" style="left:342.04px;top:142.81px;font-size:12px;font-weight:400;font-style:italic;color:#171449;transform:scaleX(1.1307);-webkit-text-stroke:0.3px #171449">sentimentali.</div>
<div class="t" id="it2_3" style="left:421.85px;top:142.81px;font-size:12px;font-weight:400;font-style:italic;color:#171449;transform:scaleX(1.0612);-webkit-text-stroke:0.3px #171449">Dovresti</div>
<div class="t" id="it2_4" style="left:473.83px;top:142.81px;font-size:12px;font-weight:400;font-style:italic;color:#171449;transform:scaleX(1.1149);-webkit-text-stroke:0.3px #171449">dirmi</div>
<div class="t" id="it2_5" style="left:507.19px;top:142.81px;font-size:12px;font-weight:400;font-style:italic;color:#171449;transform:scaleX(1.1021);-webkit-text-stroke:0.3px #171449">quanto</div>
<div class="t" id="it2_6" style="left:552.73px;top:142.81px;font-size:12px;font-weight:400;font-style:italic;color:#171449;transform:scaleX(0.9865);-webkit-text-stroke:0.3px #171449">sei</div>
<div class="t" id="it2_7" style="left:572.24px;top:142.81px;font-size:12px;font-weight:400;font-style:italic;color:#171449;transform:scaleX(1.0673);-webkit-text-stroke:0.3px #171449">d’accordo</div>
<div class="t" id="it2_8" style="left:631.90px;top:142.81px;font-size:12px;font-weight:400;font-style:italic;color:#171449;transform:scaleX(1.0329);-webkit-text-stroke:0.3px #171449">con</div>
<div class="t" id="it2_9" style="left:656.51px;top:142.81px;font-size:12px;font-weight:400;font-style:italic;color:#171449;transform:scaleX(1.0578);-webkit-text-stroke:0.3px #171449">ciascuna</div>
<div class="t" id="it2_10" style="left:710.69px;top:142.81px;font-size:12px;font-weight:400;font-style:italic;color:#171449;transform:scaleX(1.1074);-webkit-text-stroke:0.3px #171449">frase.</div>
<div class="t" id="voti_0" style="left:285.27px;top:198.51px;font-size:11.2px;font-weight:400;font-style:italic;color:#000;transform:scaleX(0.9257);-webkit-text-stroke:0.15px #000">%</div>
<div class="t" id="voti_1" style="left:297.40px;top:198.51px;font-size:11.2px;font-weight:400;font-style:italic;color:#000;transform:scaleX(0.9901);-webkit-text-stroke:0.15px #000">voti</div>
<div class="t" id="voti_2" style="left:318.39px;top:198.51px;font-size:11.2px;font-weight:400;font-style:italic;color:#000;transform:scaleX(0.8907);-webkit-text-stroke:0.15px #000">da</div>
<div class="t" id="voti_3" style="left:332.84px;top:198.51px;font-size:11.2px;font-weight:400;font-style:italic;color:#000;transform:scaleX(0.9257);-webkit-text-stroke:0.15px #000">7</div>
<div class="t" id="voti_4" style="left:341.37px;top:198.51px;font-size:11.2px;font-weight:400;font-style:italic;color:#000;transform:scaleX(0.9257);-webkit-text-stroke:0.15px #000">a</div>
<div class="t" id="voti_5" style="left:352.08px;top:198.51px;font-size:11.2px;font-weight:400;font-style:italic;color:#000;transform:scaleX(0.8572);-webkit-text-stroke:0.15px #000">10</div>
<div style="position:absolute;left:600.0px;top:210.4px;width:29.0px;height:21.4px;border:3px solid #1b5a7e;box-sizing:border-box"></div>
<div style="position:absolute;left:769.7px;top:367.6px;width:27.6px;height:21.1px;border:3px solid #1b5a7e;box-sizing:border-box"></div>
<div style="position:absolute;left:769.7px;top:417.0px;width:27.6px;height:21.7px;border:3px solid #1b5a7e;box-sizing:border-box"></div>
<div style="position:absolute;left:600.0px;top:462.7px;width:28.8px;height:22.1px;border:3px solid #1b5a7e;box-sizing:border-box"></div>
<div style="position:absolute;left:768.0px;top:556.5px;width:28.0px;height:22.5px;border:3px solid #ff0000;box-sizing:border-box"></div>
</body></html>
